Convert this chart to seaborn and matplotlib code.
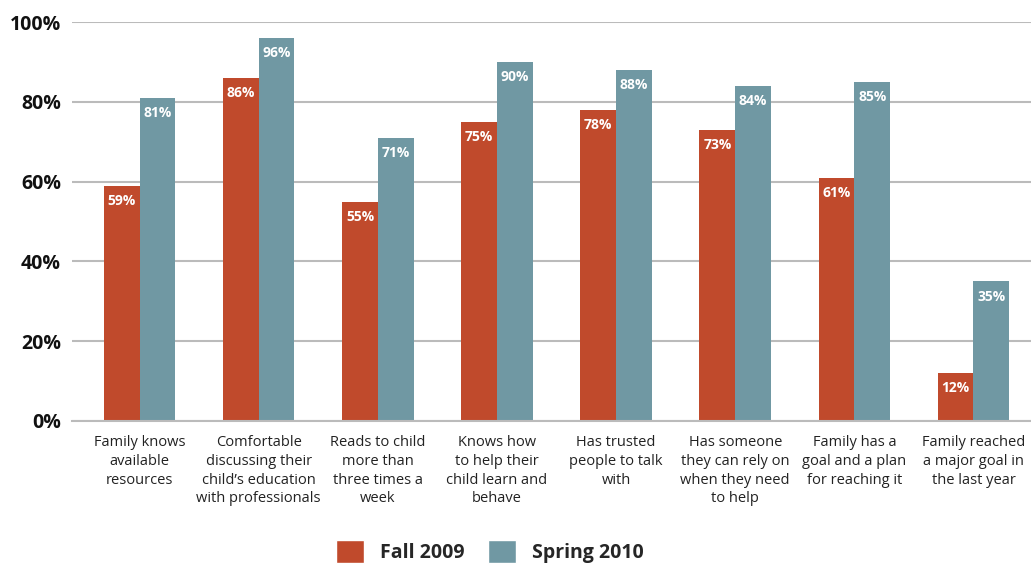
import matplotlib
matplotlib.use("Agg")
import matplotlib.pyplot as plt
import seaborn as sns
import pandas as pd
from matplotlib.patches import Patch

categories = [
    "Family knows\navailable\nresources",
    "Comfortable\ndiscussing their\nchild\u2019s education\nwith professionals",
    "Reads to child\nmore than\nthree times a\nweek",
    "Knows how\nto help their\nchild learn and\nbehave",
    "Has trusted\npeople to talk\nwith",
    "Has someone\nthey can rely on\nwhen they need\nto help",
    "Family has a\ngoal and a plan\nfor reaching it",
    "Family reached\na major goal in\nthe last year",
]
fall_2009 = [59, 86, 55, 75, 78, 73, 61, 12]
spring_2010 = [81, 96, 71, 90, 88, 84, 85, 35]
series_names = ["Fall 2009", "Spring 2010"]
yticks = [0, 20, 40, 60, 80, 100]

colors = ["#C04A2C", "#7098A3"]

rows = []
for c, a, b in zip(categories, fall_2009, spring_2010):
    rows.append({"cat": c, "series": series_names[0], "val": a})
    rows.append({"cat": c, "series": series_names[1], "val": b})
df = pd.DataFrame(rows)

sns.set_theme(style="white")
plt.rcParams["font.family"] = ["Open Sans", "DejaVu Sans"]

fig = plt.figure(figsize=(10.31, 5.68), dpi=100)
ax = fig.add_axes([72 / 1031, 1 - 421 / 568, (1031 - 72) / 1031, (421 - 22) / 568])

sns.barplot(data=df, x="cat", y="val", hue="series", order=categories,
            hue_order=series_names, palette=colors, width=0.6, dodge=True,
            saturation=1, ax=ax, legend=False, errorbar=None, linewidth=0)

ax.set_ylim(0, 100)
ax.set_xlim(-0.567, 7.483)
ax.set_yticks(yticks)
ax.set_yticklabels([f"{v}%" for v in yticks], fontsize=14, fontweight="bold", color="#111111")
ax.yaxis.grid(True, color="#BBBBBB", linewidth=1.5)
ax.set_axisbelow(True)
for s in ["top", "right", "left"]:
    ax.spines[s].set_visible(False)
ax.spines["bottom"].set_color("#BBBBBB")
ax.spines["bottom"].set_linewidth(1.5)
ax.tick_params(axis="y", length=0, pad=8)
ax.tick_params(axis="x", length=0, pad=10)
ax.set_xticks(range(len(categories)))
ax.set_xticklabels(categories, fontsize=10.5, color="#222222", linespacing=1.35)
ax.set_xlabel("")
ax.set_ylabel("")

for cont in ax.containers:
    ax.bar_label(cont, labels=[f"{int(round(b.get_height()))}%" for b in cont],
                 label_type="edge", padding=-16, color="white",
                 fontsize=10, fontweight="bold")

handles = [Patch(facecolor=colors[0]), Patch(facecolor=colors[1])]
fig.legend(handles, series_names, loc="lower center", ncol=2, frameon=False,
           bbox_to_anchor=(0.475, -0.022), prop={"size": 14, "weight": "bold"},
           handlelength=1.45, handleheight=1.45, handletextpad=0.8, columnspacing=1.2)

fig.savefig("out.png", dpi=100)
